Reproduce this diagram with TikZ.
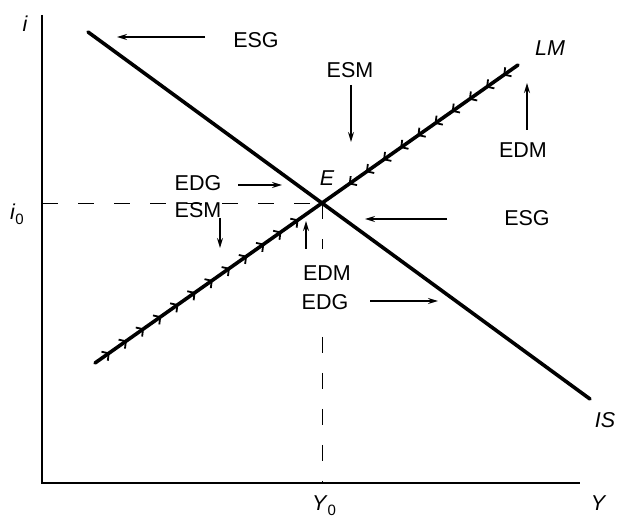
\documentclass[tikz,border=0pt]{standalone}
\usepackage{fontspec}
\setmainfont{Liberation Sans}
\usetikzlibrary{arrows.meta,decorations.markings,calc}
\begin{document}
\begin{tikzpicture}[x=1pt,y=-1pt,
  axis/.style={line width=2.6pt},
  curve/.style={line width=3.6pt, line cap=round},
  guide/.style={line width=0.8pt, dash pattern=on 16pt off 20pt},
  move/.style={line width=1.4pt, -{Stealth[length=10pt,width=6pt]}},
  lbl/.style={font=\fontsize{21.5}{23}\selectfont, inner sep=1pt},
  ilbl/.style={font=\fontsize{21.5}{23}\selectfont\itshape, inner sep=1pt},
  ticks/.style={postaction={decorate}, decoration={markings,
    mark=between positions 18pt and -14pt step 21pt with
    {\arrow{Straight Barb[length=5pt,width=11pt,line width=1.8pt]}}}}
]
\useasboundingbox (0,0) rectangle (619,518);
% axes
\coordinate (O) at (42,483);
\coordinate (Ytop) at (42,15);
\coordinate (Xend) at (580,483);
\draw[axis] (Ytop) -- (O) -- (Xend);
% curves
\coordinate (ISa) at (88,32);
\coordinate (ISb) at (590,399);
\coordinate (LMa) at (95,363);
\coordinate (LMb) at (518,65);
\coordinate (E) at (intersection of ISa--ISb and LMa--LMb);
% guides
\coordinate (gapTop) at ($(E)+(0,46)$);
\coordinate (gapBot) at ($(E |- O)+(0,-146)$);
\draw[guide] (E -| O) -- (E);
\draw[guide] (E) -- (gapTop);
\draw[guide] (gapBot) -- (E |- O);
\draw[curve] (ISa) -- (ISb);
\draw[curve, ticks] (LMa) -- (E);
\draw[curve, ticks] (LMb) -- (E);
% axis and curve labels
\node[ilbl] (li) at (25,24) {i};
\node[lbl] (li0) at (17,214) {\textit{i}\raisebox{-0.45ex}{\fontsize{15}{15}\selectfont 0}};
\node[lbl] (lY0) at (324,506) {\textit{Y}\raisebox{-0.45ex}{\fontsize{15}{15}\selectfont 0}};
\node[ilbl] (lY) at (598,503) {Y};
\node[ilbl] (lLM) at (550,48) {LM};
\node[ilbl] (lIS) at (605,420) {IS};
\node[ilbl] (lE) at (327,178) {E};
% disequilibrium labels
\node[lbl] (esgT) at (256,40) {ESG};
\node[lbl] (esmT) at (350,70) {ESM};
\node[lbl] (edmR) at (523,150) {EDM};
\node[lbl] (esgR) at (527,218) {ESG};
\node[lbl] (edgL) at (198,183) {EDG};
\node[lbl] (esmL) at (198,210) {ESM};
\node[lbl] (edmB) at (327,273) {EDM};
\node[lbl] (edgB) at (325,302) {EDG};
% arrow end points
\coordinate (a1s) at (205,37);  \coordinate (a1e) at (117,37);
\coordinate (a2s) at (351,85);  \coordinate (a2e) at (351,142);
\coordinate (a3s) at (527,130); \coordinate (a3e) at (527,83);
\coordinate (a4s) at (447,219); \coordinate (a4e) at (365,219);
\coordinate (a5s) at (238,185); \coordinate (a5e) at (282,185);
\coordinate (a6s) at (220,218); \coordinate (a6e) at (220,248);
\coordinate (a7s) at (306,249); \coordinate (a7e) at (306,221);
\coordinate (a8s) at (370,301); \coordinate (a8e) at (438,301);
\draw[move] (a1s) -- (a1e);
\draw[move] (a2s) -- (a2e);
\draw[move] (a3s) -- (a3e);
\draw[move] (a4s) -- (a4e);
\draw[move] (a5s) -- (a5e);
\draw[move] (a6s) -- (a6e);
\draw[move] (a7s) -- (a7e);
\draw[move] (a8s) -- (a8e);
\end{tikzpicture}
\end{document}
